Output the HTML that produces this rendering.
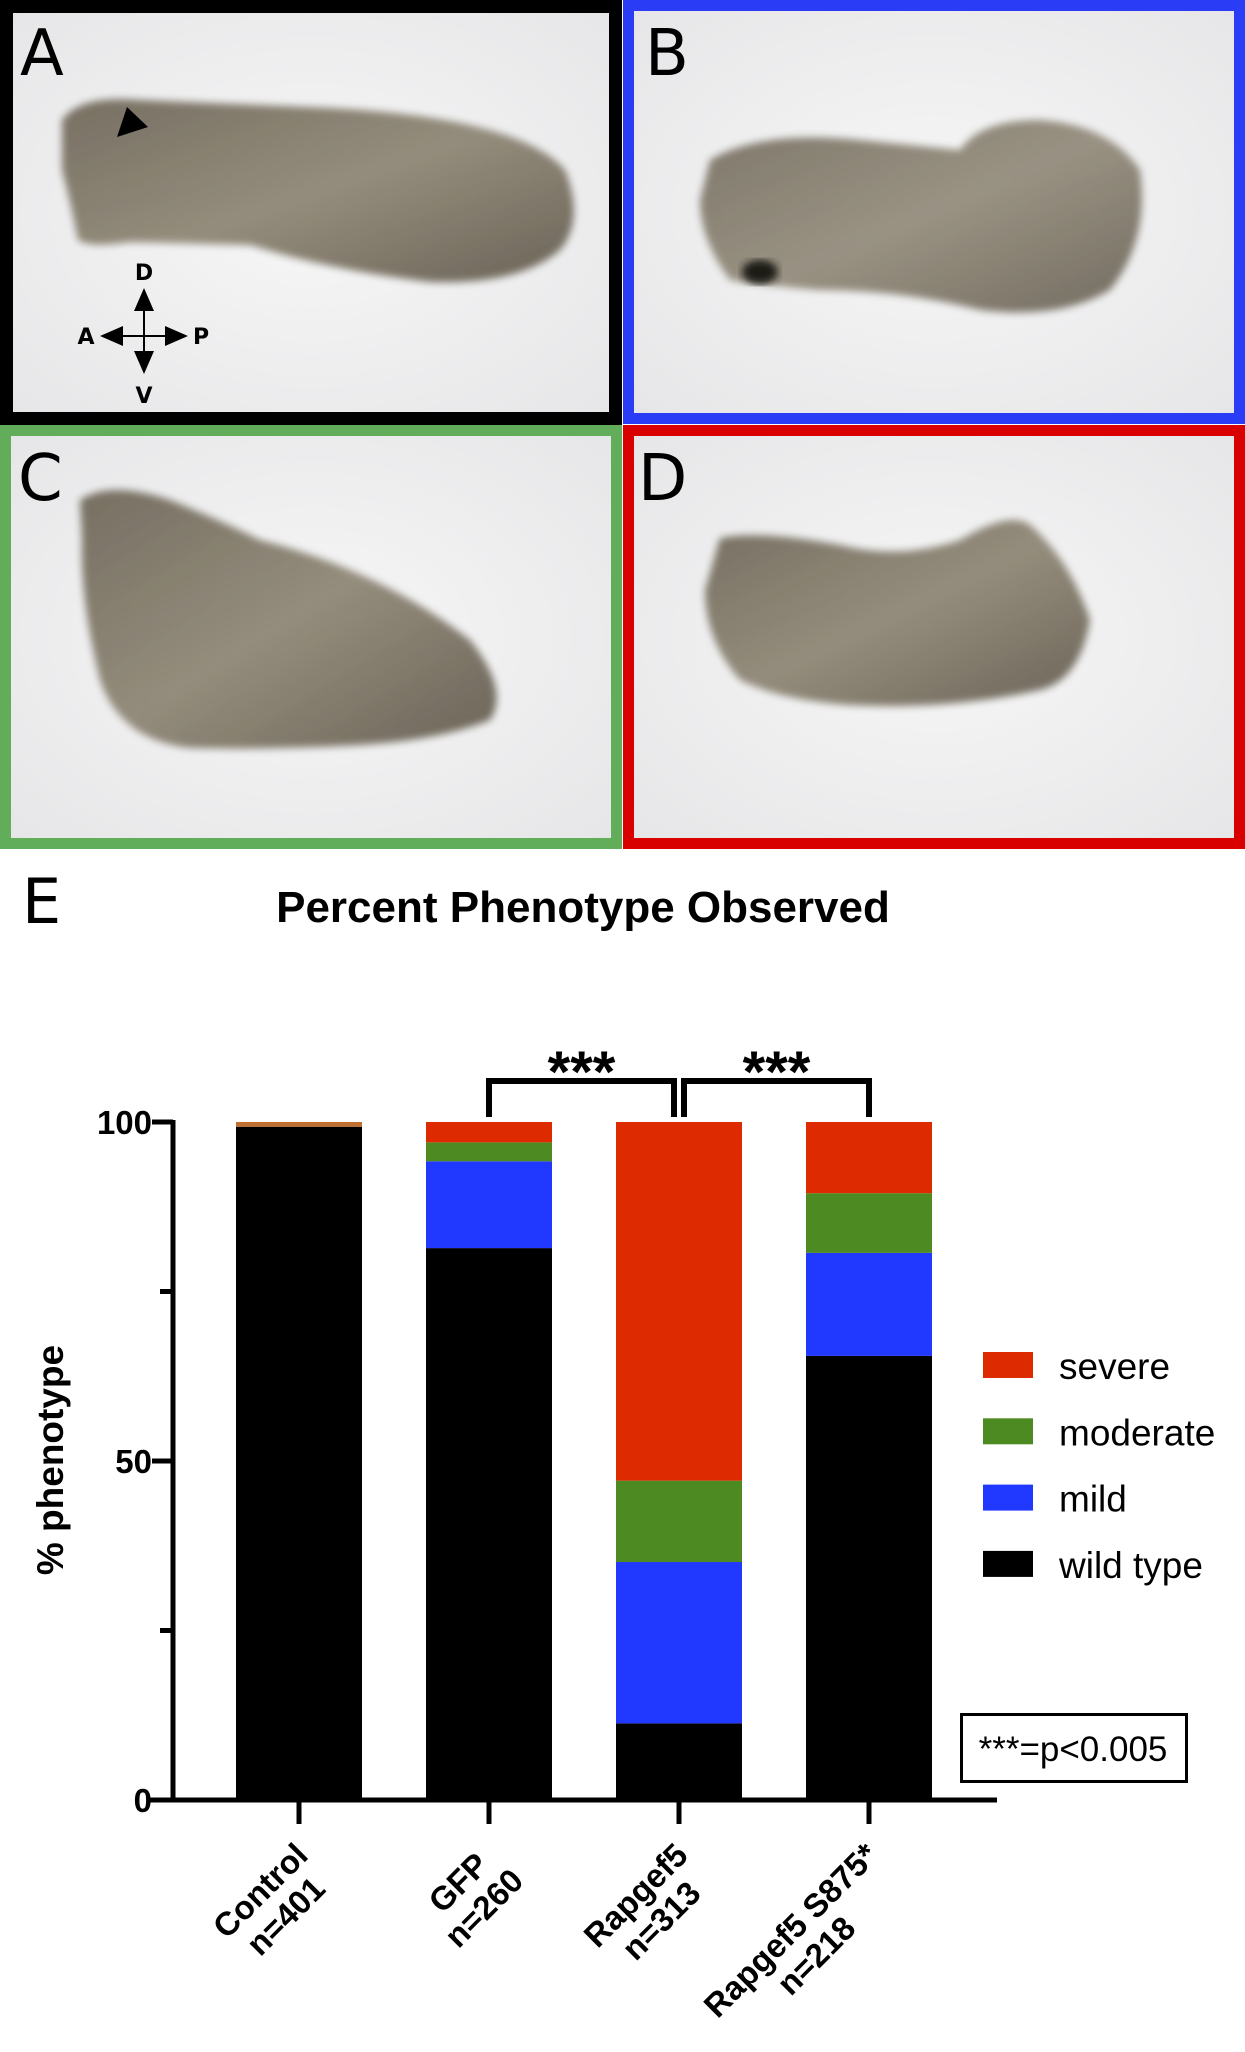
<!DOCTYPE html>
<html><head><meta charset="utf-8"><style>
html,body{margin:0;padding:0;background:#fff;}
svg{display:block;font-family:"Liberation Sans",Arial,sans-serif;}
</style></head><body>
<svg id="fig" width="1245" height="2052" viewBox="0 0 1245 2052">
<defs>
<radialGradient id="bg" cx="50%" cy="50%" r="70%"><stop offset="0" stop-color="#f7f7f7"/><stop offset="1" stop-color="#e6e6e8"/></radialGradient>
<filter id="blur" x="-10%" y="-10%" width="120%" height="120%"><feGaussianBlur stdDeviation="4"/></filter>
<linearGradient id="emb" x1="0" y1="0" x2="1" y2="1"><stop offset="0" stop-color="#6a6253"/><stop offset="0.5" stop-color="#8a8270"/><stop offset="1" stop-color="#5e5648"/></linearGradient>
</defs>
<g>
<rect x="6.5" y="6.5" width="609" height="412" fill="url(#bg)" stroke="#000" stroke-width="13"/>
<path d="M62,120 Q80,95 140,100 L330,108 Q520,118 565,170 Q585,220 560,250 Q520,285 430,282 Q330,270 250,245 L130,242 Q90,248 78,240 Q70,200 62,170 Z" fill="url(#emb)" filter="url(#blur)" opacity="0.9"/>
<polygon points="117,137 148,127 127,107" fill="#000"/>
<text x="20" y="75" font-family="DejaVu Sans,sans-serif" font-size="64">A</text>
<g stroke="#000" stroke-width="2" fill="#000">
<line x1="144" y1="292" x2="144" y2="372"/><line x1="104" y1="336" x2="184" y2="336"/>
<polygon points="144,288 134,311 154,311" stroke="none"/><polygon points="144,374 134,351 154,351" stroke="none"/>
<polygon points="100,336 123,326 123,346" stroke="none"/><polygon points="188,336 165,326 165,346" stroke="none"/>
</g>
<g font-family="DejaVu Sans,sans-serif" font-size="22" font-weight="bold">
<text x="144" y="280" text-anchor="middle">D</text><text x="144" y="403" text-anchor="middle">V</text>
<text x="86" y="344" text-anchor="middle">A</text><text x="201" y="344" text-anchor="middle">P</text></g>
</g>
<g>
<rect x="628.5" y="5.5" width="611" height="413" fill="url(#bg)" stroke="#2a3cf5" stroke-width="11"/>
<path d="M710,160 Q760,130 860,140 L960,150 Q980,120 1040,120 Q1110,125 1140,170 Q1150,240 1110,290 Q1060,320 980,310 Q900,290 820,290 Q760,285 730,280 Q700,240 700,200 Z" fill="url(#emb)" filter="url(#blur)" opacity="0.85"/>
<ellipse cx="760" cy="272" rx="18" ry="12" fill="#1d1a18" filter="url(#blur)"/>
<text x="645" y="75" font-family="DejaVu Sans,sans-serif" font-size="64">B</text>
</g>
<g>
<rect x="5.5" y="430.5" width="611" height="413" fill="url(#bg)" stroke="#62ad5a" stroke-width="11"/>
<path d="M80,500 Q110,480 170,500 Q220,520 260,540 Q380,570 470,640 Q510,690 490,720 Q440,740 360,745 Q270,750 190,748 Q120,740 100,680 Q80,600 82,540 Z" fill="url(#emb)" filter="url(#blur)" opacity="0.9"/>
<text x="18" y="500" font-family="DejaVu Sans,sans-serif" font-size="64">C</text>
</g>
<g>
<rect x="628.5" y="430.5" width="611" height="413" fill="url(#bg)" stroke="#d90000" stroke-width="11"/>
<path d="M720,538 Q760,530 840,545 Q900,560 960,540 Q1010,510 1030,525 Q1070,560 1090,620 Q1080,680 1040,690 Q950,710 850,705 Q780,700 740,680 Q705,640 705,590 Z" fill="url(#emb)" filter="url(#blur)" opacity="0.9"/>
<text x="638" y="500" font-family="DejaVu Sans,sans-serif" font-size="64">D</text>
</g>
<text x="22" y="923" font-family="DejaVu Sans,sans-serif" font-size="62">E</text>
<text x="583" y="922" text-anchor="middle" font-size="44" font-weight="bold">Percent Phenotype Observed</text>
<text transform="translate(63,1460) rotate(-90)" text-anchor="middle" font-size="37" font-weight="bold">% phenotype</text>
<g id="chart"></g>
<g id="legend"></g>
<g>
<rect x="961.5" y="1714.5" width="225" height="67" fill="#fff" stroke="#000" stroke-width="3"/>
<text x="1073" y="1761" text-anchor="middle" font-size="35">***=p&lt;0.005</text>
</g>
</svg>
<script>
const categories = ["Control", "GFP", "Rapgef5", "Rapgef5 S875*"];
const nLabels = ["n=401", "n=260", "n=313", "n=218"];
const wildType = [99.3, 81.4, 11.3, 65.5];
const mild = [0, 12.8, 23.8, 15.2];
const moderate = [0, 2.8, 12.0, 8.8];
const severe = [0.7, 3.0, 52.9, 10.5];
const seriesNames = ["wild type", "mild", "moderate", "severe"];
const yTicks = [0, 50, 100];
const yMinor = [25, 75];
const sigPairs = [[1, 2, "***"], [2, 3, "***"]];

const NS = "http://www.w3.org/2000/svg";
const colors = {"wild type": "#000000", "mild": "#2138ff", "moderate": "#4e8a22", "severe": "#dd2a00"};
const y0 = 1800, y100 = 1122, xFirst = 299, step = 190, barW = 126;
function yScale(v) { return y0 - (v / 100) * (y0 - y100); }
function xScale(i) { return xFirst + i * step; }
function mk(tag, attrs, parent) { const e = document.createElementNS(NS, tag); for (const k in attrs) e.setAttribute(k, attrs[k]); parent.appendChild(e); return e; }
const chart = document.getElementById("chart");
const series = [wildType, mild, moderate, severe];
categories.forEach((c, i) => {
  let base = 0;
  series.forEach((s, j) => {
    const v = s[i];
    if (v <= 0) return;
    const col = (i === 0 && j === 3) ? "#c07030" : colors[seriesNames[j]];
    const r = mk("rect", {x: xScale(i) - barW / 2, y: yScale(base + v), width: barW, height: yScale(base) - yScale(base + v), fill: col}, chart);
    
    
    base += v;
  });
});
const yAx = mk("line", {x1: 173, y1: y100 - 2, x2: 173, y2: y0 + 2, stroke: "#000", "stroke-width": 5}, chart);


const xAx = mk("line", {x1: 150, y1: y0, x2: 997, y2: y0, stroke: "#000", "stroke-width": 5}, chart);


yTicks.forEach(t => {
  mk("line", {x1: 152, y1: yScale(t), x2: 173, y2: yScale(t), stroke: "#000", "stroke-width": 5}, chart);
  const tx = mk("text", {x: 152, y: yScale(t) + 12, "text-anchor": "end", "font-size": 33, "font-weight": "bold"}, chart);
  tx.textContent = t;
  
  
});
yMinor.forEach(t => { mk("line", {x1: 160, y1: yScale(t), x2: 173, y2: yScale(t), stroke: "#000", "stroke-width": 5}, chart); });
categories.forEach((c, i) => {
  mk("line", {x1: xScale(i), y1: y0, x2: xScale(i), y2: 1824, stroke: "#000", "stroke-width": 5}, chart);
  const g = mk("g", {transform: `translate(${xScale(i) - 2},1836) rotate(-45)`}, chart);
  
  
  const t1 = mk("text", {x: 0, y: 24, "text-anchor": "middle", "font-size": 33, "font-weight": "bold"}, g);
  t1.textContent = c;
  const t2 = mk("text", {x: 0, y: 60, "text-anchor": "middle", "font-size": 33, "font-weight": "bold"}, g);
  t2.textContent = nLabels[i];
  const W = Math.max(t1.getComputedTextLength(), t2.getComputedTextLength());
  t1.setAttribute("x", -W / 2 - 6); t2.setAttribute("x", -W / 2 - 6);
});
sigPairs.forEach((p, k) => {
  const xa = xScale(p[0]) + (k === 1 ? 5 : 0), xb = xScale(p[1]) - (k === 0 ? 5 : 0);
  const br = mk("path", {d: `M${xa},1117 L${xa},1081 L${xb},1081 L${xb},1117`, fill: "none", stroke: "#000", "stroke-width": 6}, chart);
  
  
  const st = mk("text", {x: (xa + xb) / 2, y: 1092, "text-anchor": "middle", "font-size": 58, "font-weight": "bold"}, chart);
  st.textContent = p[2];
  
  
});
const leg = document.getElementById("legend");
const legOrder = ["severe", "moderate", "mild", "wild type"];
legOrder.forEach((n, i) => {
  const yy = 1352 + i * 66.3;
  const sw = mk("rect", {x: 983, y: yy, width: 50, height: 26, fill: colors[n]}, leg);
  
  
  const t = mk("text", {x: 1059, y: yy + 27, "font-size": 37}, leg);
  t.textContent = n;
  
  
});
</script>
</body></html>
